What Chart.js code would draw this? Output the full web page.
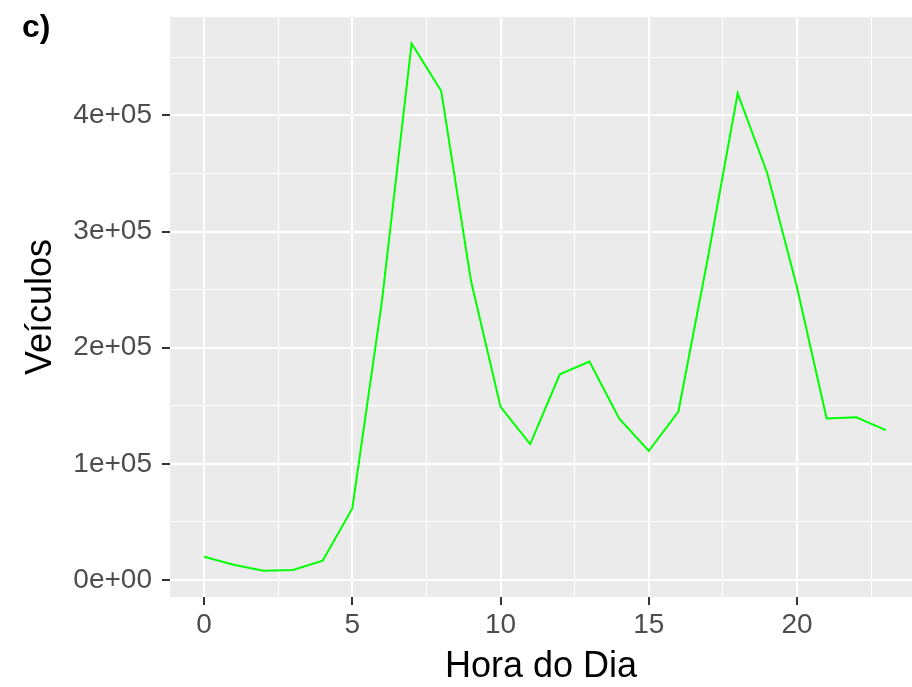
<!DOCTYPE html>
<html>
<head>
<meta charset="utf-8">
<script src="https://cdn.jsdelivr.net/npm/chart.js@4/dist/chart.umd.min.js"></script>
<style>
  body { margin: 0; background: #fff; }
  canvas { display: block; }
</style>
</head>
<body>
<canvas id="trafficChart" width="912" height="687"></canvas>
<script>
// Veículos por hora do dia
const hours = [0, 1, 2, 3, 4, 5, 6, 7, 8, 9, 10, 11, 12, 13, 14, 15, 16, 17, 18, 19, 20, 21, 22, 23];
const vehicles = [20000, 13000, 8000, 8500, 16500, 61500, 240000, 462000, 421000, 258000, 149000, 117000,
                  177000, 188000, 139000, 111000, 145000, 278000, 419000, 350000, 252000, 139000, 140000, 129000];
const xTicks = [0, 2.5, 5, 7.5, 10, 12.5, 15, 17.5, 20, 22.5];
const yTicks = [0, 50000, 100000, 150000, 200000, 250000, 300000, 350000, 400000, 450000];
const panelLabel = 'c)';

const FONT = '"Liberation Sans", Arial, Helvetica, sans-serif';

const isMajorX = v => v % 5 === 0;
const isMajorY = v => v % 100000 === 0;

// ggplot style grey panel
const panelBg = {
    id: 'panelBg',
    beforeDraw(chart) {
        const { ctx, chartArea: a } = chart;
        ctx.save();
        ctx.fillStyle = '#EBEBEB';
        ctx.fillRect(a.left, a.top, a.right - a.left, a.bottom - a.top);
        ctx.restore();
    },
    afterDraw(chart) {
        const ctx = chart.ctx;
        ctx.save();
        ctx.font = 'bold 32px ' + FONT;
        ctx.fillStyle = '#000';
        ctx.textBaseline = 'alphabetic';
        ctx.fillText(panelLabel, 22, 37);
        ctx.restore();
    }
};

function sciLabel(value) {
    if (!isMajorY(value)) return '';
    return value.toExponential(0).replace('e+', 'e+0').replace('e+00', 'e+00');
}

new Chart(document.getElementById('trafficChart'), {
    type: 'line',
    data: {
        datasets: [{
            data: hours.map((h, i) => ({ x: h, y: vehicles[i] })),
            borderColor: '#00FF00',
            borderWidth: 2,
            pointRadius: 0,
            tension: 0,
            fill: false
        }]
    },
    options: {
        responsive: false,
        animation: false,
        layout: { padding: { top: 17, right: 0, left: 0, bottom: 0 }, autoPadding: false },
        plugins: {
            legend: { display: false },
            tooltip: { enabled: false }
        },
        scales: {
            x: {
                type: 'linear',
                min: -1.15,
                max: 23.88,
                afterBuildTicks: scale => { scale.ticks = xTicks.map(v => ({ value: v })); },
                afterFit: scale => {
                    scale.height = 90;
                    scale.paddingLeft = 0; scale.paddingRight = 0;
                },
                border: { display: false },
                grid: {
                    color: '#FFFFFF',
                    lineWidth: c => isMajorX(c.tick.value) ? 2 : 1,
                    drawTicks: true,
                    tickLength: 8,
                    tickWidth: 2,
                    tickColor: c => isMajorX(c.tick.value) ? '#333333' : 'rgba(0,0,0,0)'
                },
                ticks: {
                    autoSkip: false,
                    maxRotation: 0,
                    padding: 6,
                    color: '#4D4D4D',
                    font: { family: FONT, size: 28, lineHeight: 1.0 },
                    callback: v => isMajorX(v) ? String(v) : ''
                },
                title: {
                    display: true,
                    text: 'Hora do Dia',
                    color: '#000',
                    font: { family: FONT, size: 36, lineHeight: 1.1 },
                    padding: { top: 0, bottom: 0 }
                }
            },
            y: {
                type: 'linear',
                min: -14700,
                max: 484700,
                afterBuildTicks: scale => { scale.ticks = yTicks.map(v => ({ value: v })); },
                afterFit: scale => {
                    scale.width = 170;
                    scale.paddingTop = 0; scale.paddingBottom = 0;
                },
                border: { display: false },
                grid: {
                    color: '#FFFFFF',
                    lineWidth: c => isMajorY(c.tick.value) ? 2 : 1,
                    drawTicks: true,
                    tickLength: 8,
                    tickWidth: 2,
                    tickColor: c => isMajorY(c.tick.value) ? '#333333' : 'rgba(0,0,0,0)'
                },
                ticks: {
                    autoSkip: false,
                    padding: 10,
                    color: '#4D4D4D',
                    font: { family: FONT, size: 28, lineHeight: 1.0 },
                    callback: v => sciLabel(v)
                },
                title: {
                    display: true,
                    text: 'Veículos',
                    color: '#000',
                    font: { family: FONT, size: 36, lineHeight: 1.1 },
                    padding: { top: 21, bottom: 0 }
                }
            }
        }
    },
    plugins: [panelBg]
});
</script>
</body>
</html>
